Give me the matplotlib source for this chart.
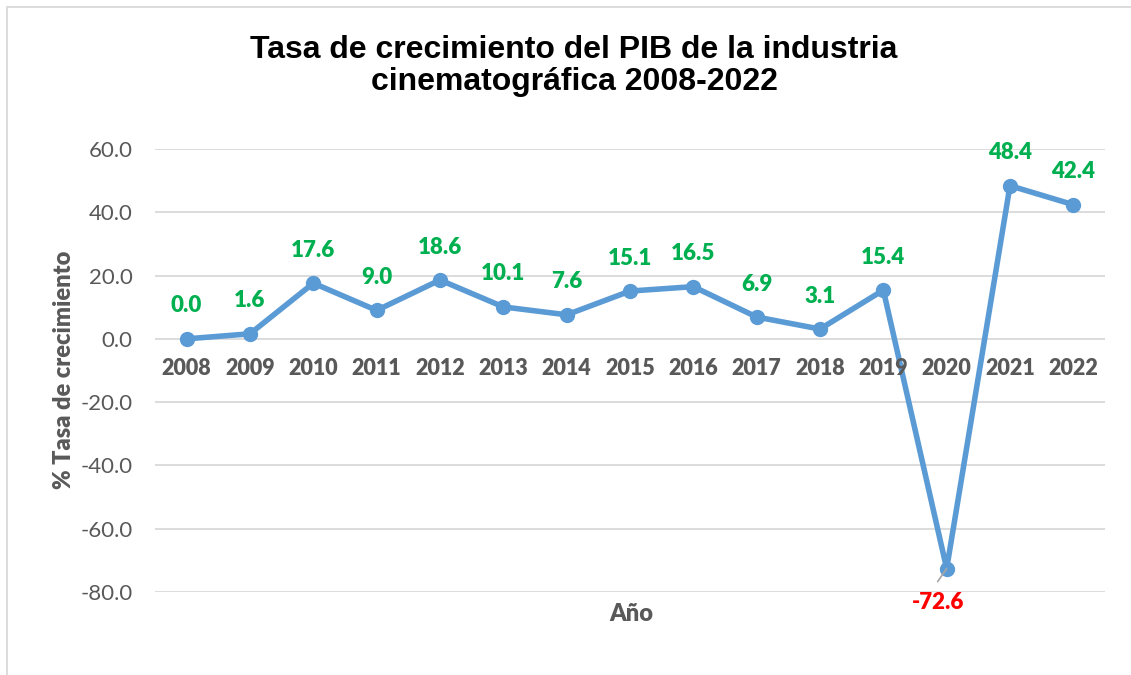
import matplotlib
matplotlib.use("Agg")
import matplotlib.pyplot as plt
from matplotlib.patches import Rectangle

years = ["2008", "2009", "2010", "2011", "2012", "2013", "2014", "2015",
         "2016", "2017", "2018", "2019", "2020", "2021", "2022"]
growth = [0.0, 1.6, 17.6, 9.0, 18.6, 10.1, 7.6, 15.1, 16.5, 6.9, 3.1, 15.4,
          -72.6, 48.4, 42.4]
yticks = [-80, -60, -40, -20, 0, 20, 40, 60]

W, H = 1131, 675
fig = plt.figure(figsize=(W / 100, H / 100), dpi=100)
fig.patch.set_facecolor("white")

BOLD = "heavy"

# outer chart border (light gray), cut off at right/bottom like the reference
fig.add_artist(Rectangle((7 / W, -0.05), 1.2, 1 - 7 / H + 0.05,
                         transform=fig.transFigure, fill=False,
                         edgecolor="#D9D9D9", linewidth=1.3))

ax = fig.add_axes([155 / W, 1 - 592 / H, (1105 - 155) / W, (592 - 149) / H])
ax.set_xlim(-0.5, len(years) - 0.5)
ax.set_ylim(-80, 60)
for s in ax.spines.values():
    s.set_visible(False)
ax.set_yticks(yticks)
ax.set_yticklabels([f"{v:.1f}" for v in yticks], fontfamily="Lato",
                   fontsize=16, color="#595959")
ax.tick_params(axis="y", length=0, pad=16)
ax.set_xticks([])
ax.grid(axis="y", color="#D9D9D9", linewidth=1.3)
ax.set_axisbelow(True)

x = list(range(len(years)))
ax.plot(x, growth, color="#5B9BD5", linewidth=4.0, marker="o",
        markersize=10, solid_capstyle="round", zorder=3, clip_on=False)

# category labels placed next to zero line
for i, yr in enumerate(years):
    ax.annotate(yr, (i, 0), xytext=(0, -30), textcoords="offset pixels",
                ha="center", va="center", fontfamily="Lato",
                fontweight=BOLD, fontsize=15.5, color="#595959")

# data labels
for i, v in enumerate(growth):
    if v < 0:
        ax.annotate(f"{v:.1f}", (i, v), xytext=(-9, -34),
                    textcoords="offset pixels", ha="center", va="center",
                    fontfamily="Lato", fontweight=BOLD, fontsize=16,
                    color="#FF0000")
        ax.annotate("", (i, v), xytext=(-9, -13), textcoords="offset pixels",
                    arrowprops=dict(arrowstyle="-", color="#A6A6A6", lw=1.2,
                                    shrinkA=0, shrinkB=0))
    else:
        ax.annotate(f"{v:.1f}", (i, v), xytext=(0, 33),
                    textcoords="offset pixels", ha="center", va="center",
                    fontfamily="Lato", fontweight=BOLD, fontsize=16,
                    color="#00B050")

fig.text(574 / W, 1 - 66 / H,
         "Tasa de crecimiento del PIB de la industria\ncinematográfica 2008-2022",
         ha="center", va="center", fontfamily="Liberation Sans",
         fontweight="bold", fontsize=23, color="black", linespacing=1.1)

fig.text(64 / W, 1 - 370 / H, "% Tasa de crecimiento", rotation=90,
         ha="center", va="center", fontfamily="Lato", fontweight=BOLD,
         fontsize=17, color="#595959")
fig.text(631 / W, 1 - 614 / H, "Año", ha="center", va="center",
         fontfamily="Lato", fontweight=BOLD, fontsize=17, color="#595959")

fig.savefig("out.png", dpi=100, facecolor="white")
